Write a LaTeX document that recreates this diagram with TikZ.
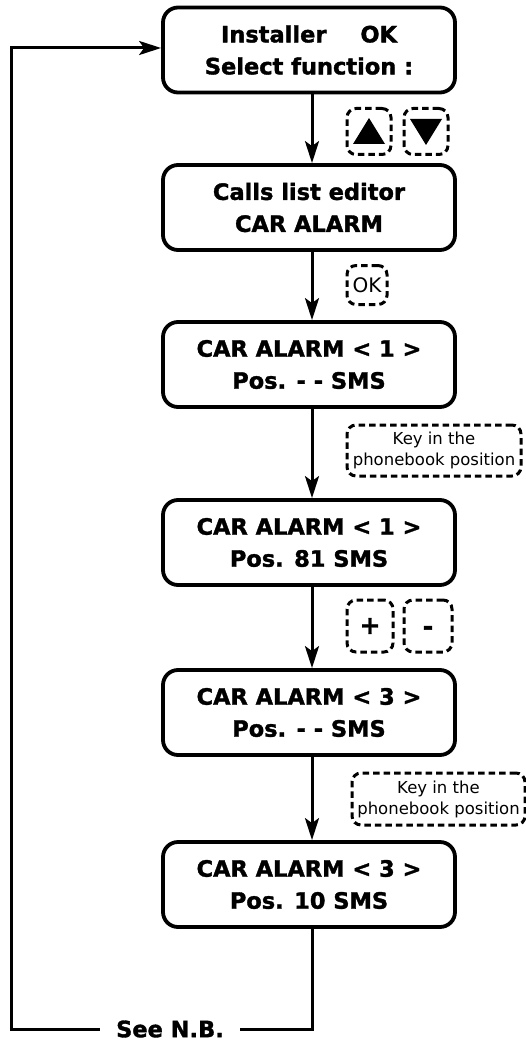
\documentclass[tikz,border=0pt]{standalone}
\usepackage{fontspec}
\setmainfont{DejaVu Sans}[BoldFeatures={FakeBold=1.5}]
\usetikzlibrary{arrows.meta}
\tikzset{
  screen/.style={draw, line width=3.8pt, rounded corners=15pt, minimum width=292pt, minimum height=85pt,
    align=center, inner sep=0pt, font=\fontsize{22.5}{32}\selectfont\bfseries},
  keybox/.style={draw, line width=3pt, dash pattern=on 6.5pt off 4pt, rounded corners=9pt, inner sep=0pt,
    align=center},
  flow/.style={line width=3pt, -{Stealth[length=22pt,width=14pt,inset=5pt]}},
  plain/.style={line width=3pt}
}
\begin{document}
\begin{tikzpicture}[x=1pt,y=-1pt]
\useasboundingbox (0,0) rectangle (525,1043);
% screens
\node[screen] (b1) at (309,50) {Installer\hspace{34pt}OK\\Select function :};
\node[screen] (b2) at (309,207.5) {Calls list editor\\CAR ALARM};
\node[screen] (b3) at (309,364.5) {CAR ALARM < 1 >\\Pos. - - SMS};
\node[screen] (b4) at (309,542.5) {CAR ALARM < 1 >\\Pos. 81 SMS};
\node[screen] (b5) at (309,712.5) {CAR ALARM < 3 >\\Pos. - - SMS};
\node[screen] (b6) at (309,884.5) {CAR ALARM < 3 >\\Pos. 10 SMS};
% keys
\node[keybox, minimum width=44pt, minimum height=46pt] (kup) at (369,131.5) {};
\node[keybox, minimum width=44pt, minimum height=46pt] (kdown) at (426,131.5) {};
\fill (369,118) -- (385,144) -- (353,144) -- cycle;
\fill (410,119) -- (442,119) -- (426,145) -- cycle;
\node[keybox, minimum width=40pt, minimum height=39pt, font=\fontsize{20}{22}\selectfont] (kok) at (367,285) {OK};
\node[keybox, minimum width=174pt, minimum height=51pt, font=\fontsize{16.5}{21}\selectfont] (kpos1) at (434,450.5) {Key in the\\phonebook position};
\node[keybox, minimum width=46pt, minimum height=52pt, font=\fontsize{25}{26}\selectfont\bfseries] (kplus) at (370,626) {+};
\node[keybox, minimum width=48pt, minimum height=52pt, text height=18pt, text depth=0pt, font=\fontsize{25}{26}\selectfont\bfseries] (kminus) at (428,626) {-};
\node[keybox, minimum width=173pt, minimum height=52pt, font=\fontsize{16.5}{21}\selectfont] (kpos2) at (438.5,799) {Key in the\\phonebook position};
% connectors
\draw[flow] (b1.south -| 312,0) -- (b2.north -| 312,0);
\draw[flow] (b2.south -| 312,0) -- (b3.north -| 312,0);
\draw[flow] (b3.south -| 312,0) -- (b4.north -| 312,0);
\draw[flow] (b4.south -| 312,0) -- (b5.north -| 312,0);
\draw[flow] (b5.south -| 312,0) -- (b6.north -| 312,0);
% return path
\node[font=\fontsize{22.5}{24}\selectfont\bfseries, inner sep=0pt] (nb) at (170,1029) {See N.B.};
\coordinate (c1) at (312,1029);
\coordinate (c2) at (11,1029);
\coordinate (c3) at (11,48);
\draw[plain] (b6.south -| 312,0) -- (c1) -- ([xshift=16pt]nb.east |- c1);
\draw[flow] ([xshift=-16pt]nb.west |- c2) -- (c2) -- (c3) -- (b1.west |- c3);
\end{tikzpicture}
\end{document}
